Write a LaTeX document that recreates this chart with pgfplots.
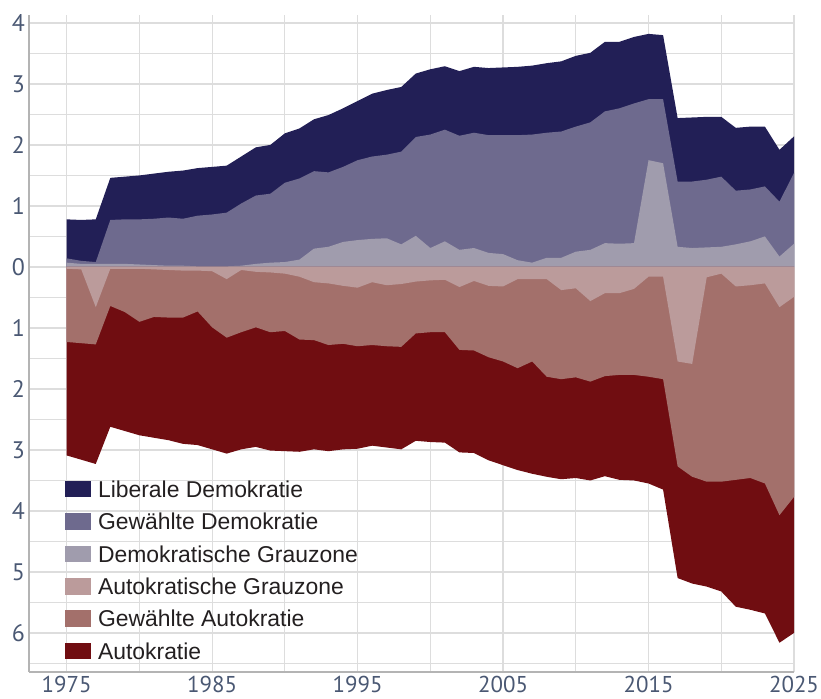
\documentclass[border=0pt]{standalone}
\usepackage{pgfplots}
\pgfplotsset{compat=1.18}
\usepackage{pgfplotstable}
\usepackage{fontspec}
\setmainfont{Liberation Sans}
\newfontfamily\tickfont{PT Sans}
\definecolor{ld}{HTML}{221F56}
\definecolor{gd}{HTML}{6E6A8E}
\definecolor{dg}{HTML}{A09CAD}
\definecolor{ag}{HTML}{BB9B9B}
\definecolor{ga}{HTML}{A3706B}
\definecolor{au}{HTML}{700D11}
\definecolor{gridgray}{HTML}{DDDDDD}
\definecolor{axgray}{HTML}{B4B4B4}
\definecolor{tickcol}{HTML}{4A5873}
\definecolor{textcol}{HTML}{231F20}

% T = top of Liberale Demokratie, B1 = top of Gewaehlte Demokratie, B2 = top of Demokratische Grauzone
% N1 = bottom of Autokratische Grauzone, N2 = bottom of Gewaehlte Autokratie, N3 = bottom of Autokratie
\pgfplotstableread{
yr   T    B1   B2   N1    N2    N3
1975 0.78 0.14 0.07 -0.03 -1.23 -3.09
1976 0.77 0.10 0.05 -0.04 -1.25 -3.16
1977 0.78 0.08 0.05 -0.66 -1.27 -3.23
1978 1.46 0.77 0.05 -0.03 -0.64 -2.62
1979 1.48 0.78 0.05 -0.03 -0.74 -2.69
1980 1.50 0.78 0.04 -0.03 -0.90 -2.76
1981 1.53 0.79 0.03 -0.04 -0.82 -2.80
1982 1.56 0.81 0.02 -0.05 -0.83 -2.84
1983 1.58 0.79 0.02 -0.06 -0.83 -2.90
1984 1.62 0.84 0.01 -0.06 -0.73 -2.92
1985 1.64 0.86 0.01 -0.07 -0.99 -2.99
1986 1.66 0.89 0.01 -0.20 -1.16 -3.06
1987 1.81 1.04 0.02 -0.05 -1.07 -2.99
1988 1.96 1.17 0.05 -0.08 -0.99 -2.95
1989 2.00 1.20 0.07 -0.09 -1.07 -3.01
1990 2.19 1.38 0.08 -0.11 -1.05 -3.02
1991 2.27 1.45 0.12 -0.16 -1.19 -3.03
1992 2.42 1.57 0.30 -0.25 -1.20 -2.99
1993 2.49 1.55 0.33 -0.27 -1.28 -3.02
1994 2.60 1.64 0.41 -0.31 -1.26 -2.99
1995 2.72 1.75 0.44 -0.34 -1.30 -2.98
1996 2.84 1.81 0.46 -0.25 -1.28 -2.93
1997 2.90 1.84 0.47 -0.30 -1.30 -2.96
1998 2.95 1.89 0.37 -0.28 -1.31 -2.99
1999 3.17 2.13 0.51 -0.24 -1.09 -2.85
2000 3.24 2.17 0.31 -0.22 -1.07 -2.87
2001 3.29 2.25 0.42 -0.21 -1.07 -2.88
2002 3.21 2.15 0.28 -0.33 -1.36 -3.04
2003 3.28 2.20 0.31 -0.23 -1.37 -3.05
2004 3.26 2.16 0.23 -0.31 -1.48 -3.17
2005 3.27 2.16 0.21 -0.32 -1.55 -3.25
2006 3.28 2.16 0.11 -0.20 -1.66 -3.33
2007 3.30 2.17 0.07 -0.20 -1.55 -3.39
2008 3.34 2.20 0.15 -0.20 -1.80 -3.44
2009 3.37 2.22 0.15 -0.38 -1.84 -3.48
2010 3.46 2.30 0.25 -0.35 -1.81 -3.46
2011 3.51 2.37 0.28 -0.56 -1.88 -3.50
2012 3.69 2.55 0.39 -0.43 -1.79 -3.43
2013 3.69 2.60 0.38 -0.43 -1.77 -3.49
2014 3.77 2.68 0.39 -0.36 -1.77 -3.50
2015 3.82 2.75 1.75 -0.16 -1.80 -3.55
2016 3.80 2.75 1.70 -0.16 -1.84 -3.65
2017 2.44 1.40 0.33 -1.55 -3.27 -5.10
2018 2.45 1.40 0.31 -1.59 -3.44 -5.19
2019 2.46 1.43 0.32 -0.17 -3.52 -5.24
2020 2.46 1.48 0.33 -0.11 -3.52 -5.32
2021 2.28 1.25 0.37 -0.32 -3.49 -5.57
2022 2.30 1.27 0.42 -0.30 -3.46 -5.62
2023 2.30 1.32 0.50 -0.27 -3.55 -5.68
2024 1.92 1.07 0.17 -0.66 -4.07 -6.16
2025 2.14 1.54 0.38 -0.49 -3.77 -6.00
}\data

\begin{document}
\begin{tikzpicture}
\begin{axis}[
  scale only axis, width=765bp, height=657bp,
  xmin=1972.41, xmax=2025, ymin=-6.64, ymax=4.13,
  axis x line*=bottom, axis y line*=left,
  axis line style={draw=axgray, line width=1.2bp},
  xtick={1975,1985,1995,2005,2015,2025},
  xticklabels={1975,1985,1995,2005,2015,2025},
  minor xtick={1980,1990,2000,2010,2020},
  ytick={-6,-5,-4,-3,-2,-1,0,1,2,3,4},
  yticklabels={6,5,4,3,2,1,0,1,2,3,4},
  minor ytick={-6.5,-5.5,-4.5,-3.5,-2.5,-1.5,-0.5,0.5,1.5,2.5,3.5},
  grid=both,
  grid style={draw=gridgray, line width=1.2bp},
  minor grid style={draw=gridgray, line width=1.2bp},
  major grid style={draw=gridgray, line width=1.2bp},
  major tick length=0pt, minor tick length=0pt,
  ticklabel style={font=\tickfont\fontsize{24}{24}\selectfont, text=tickcol, inner sep=0pt},
  yticklabel style={xshift=-4bp},
  xticklabel style={yshift=-4bp, font=\tickfont\fontsize{23}{23}\selectfont},
  legend style={at={(0.0471,0.2927)}, anchor=north west, draw=none, fill=none,
    inner sep=0pt, outer sep=0pt, font=\fontsize{23}{23}\selectfont, text=textcol,
    row sep=13.5bp, column sep=7bp,
    nodes={inner sep=0pt, text height=17.7bp, text depth=1.2bp}},
  legend cell align=left,
  legend image code/.code={\fill[#1] (0bp,-8.3bp) rectangle (26bp,8.3bp);},
]
\addplot[fill=ld, draw=none, forget plot] table[x=yr, y=T] {\data} \closedcycle;
\addplot[fill=gd, draw=none, forget plot] table[x=yr, y=B1] {\data} \closedcycle;
\addplot[fill=dg, draw=none, forget plot] table[x=yr, y=B2] {\data} \closedcycle;
\addplot[fill=au, draw=none, forget plot] table[x=yr, y=N3] {\data} \closedcycle;
\addplot[fill=ga, draw=none, forget plot] table[x=yr, y=N2] {\data} \closedcycle;
\addplot[fill=ag, draw=none, forget plot] table[x=yr, y=N1] {\data} \closedcycle;
\addlegendimage{fill=ld, draw=none}
\addlegendentry{Liberale Demokratie}
\addlegendimage{fill=gd, draw=none}
\addlegendentry{Gewählte Demokratie}
\addlegendimage{fill=dg, draw=none}
\addlegendentry{Demokratische Grauzone}
\addlegendimage{fill=ag, draw=none}
\addlegendentry{Autokratische Grauzone}
\addlegendimage{fill=ga, draw=none}
\addlegendentry{Gewählte Autokratie}
\addlegendimage{fill=au, draw=none}
\addlegendentry{Autokratie}
\end{axis}
\pgfresetboundingbox
\path[use as bounding box] ([shift={(-29bp,-27bp)}]current axis.south west) rectangle ([shift={(27bp,15bp)}]current axis.north east);
\end{tikzpicture}
\end{document}
